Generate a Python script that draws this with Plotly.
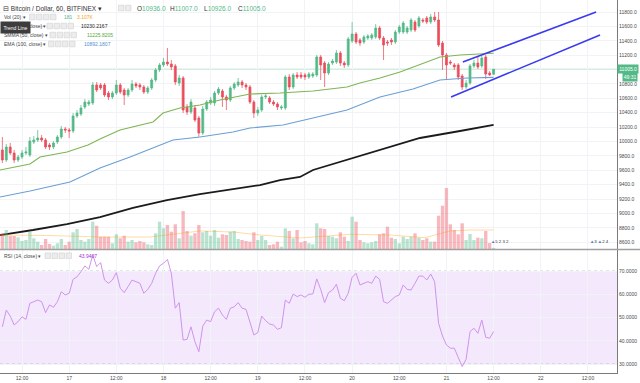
import plotly.graph_objects as go
import pandas as pd

# ---------------- data ----------------
symbol_title = "⊟ Bitcoin / Dollar, 60, BITFINEX ▾"
candle_start = "2018-02-16 07:00"

candle_open = [
    9882, 9743, 9924, 9840, 9743, 9785, 9840, 9813, 9993, 10021,
    10049, 10021, 9952, 9924, 9993, 10063, 10174, 10160, 10146, 10355,
    10382, 10480, 10521, 10535, 10786, 10786, 10786, 10674, 10619, 10674,
    10786, 10716, 10647, 10716, 10799, 10786, 10758, 10688, 10744, 10855,
    10994, 11064, 11105, 11077, 11050, 10813, 10883, 10480, 10410, 10466,
    10327, 10118, 10452, 10535, 10535, 10674, 10702, 10619, 10577, 10744,
    10786, 10827, 10786, 10758, 10549, 10396, 10438, 10619, 10605, 10549,
    10521, 10466, 10466, 10897, 10758, 10925, 10925, 10925, 10897, 10911,
    10925, 11175, 11091, 10952, 11091, 11105, 11230, 11091, 11064, 11397,
    11494, 11411, 11383, 11439, 11439, 11453, 11578, 11439, 11383, 11411,
    11383, 11522, 11522, 11522, 11550, 11661, 11606, 11689, 11717, 11661,
    11731, 11689, 11369, 11203, 11105, 11064, 11064, 10911, 10758, 10813,
    11050, 11091, 11050, 11175, 10952, 10936.0]
candle_high = [
    10063, 9965, 9979, 9882, 9813, 9882, 9924, 10063, 10077, 10160,
    10091, 10049, 9979, 10007, 10091, 10216, 10202, 10188, 10396, 10438,
    10508, 10591, 10577, 10827, 10827, 10813, 10813, 10702, 10702, 10855,
    10813, 10744, 10744, 10855, 10827, 10813, 10786, 10772, 10883, 11022,
    11091, 11161, 11300, 11133, 11077, 10925, 10911, 10521, 10591, 10508,
    10355, 10494, 10577, 10619, 10702, 10758, 10730, 10647, 10772, 10827,
    10883, 10855, 10813, 10786, 10577, 10480, 10647, 10674, 10633, 10577,
    10549, 10508, 10925, 10938, 10952, 10966, 10966, 10952, 10966, 10966,
    11203, 11203, 11119, 11105, 11147, 11272, 11258, 11119, 11453, 11661,
    11522, 11439, 11481, 11494, 11508, 11633, 11606, 11467, 11411, 11439,
    11550, 11620, 11675, 11606, 11717, 11689, 11745, 11717, 11745, 11772,
    11800, 11800, 11397, 11230, 11133, 11091, 11091, 10938, 10855, 11077,
    11133, 11175, 11189, 11203, 10980, 11007.0]
candle_low = [
    9701, 9715, 9813, 9701, 9715, 9757, 9813, 9785, 9965, 9993,
    9993, 9896, 9882, 9896, 9965, 10035, 10118, 10049, 10118, 10327,
    10355, 10452, 10494, 10508, 10688, 10716, 10619, 10577, 10591, 10647,
    10660, 10508, 10619, 10688, 10744, 10716, 10660, 10660, 10716, 10827,
    10966, 11036, 11050, 10994, 10786, 10772, 10396, 10369, 10382, 10271,
    10063, 10091, 10424, 10508, 10494, 10647, 10480, 10438, 10549, 10716,
    10758, 10744, 10716, 10521, 10327, 10355, 10410, 10591, 10521, 10494,
    10438, 10438, 10438, 10716, 10730, 10869, 10869, 10855, 10869, 10883,
    10897, 10855, 10758, 10925, 11064, 11077, 11050, 11022, 11036, 11369,
    11355, 11328, 11355, 11411, 11411, 11425, 11411, 11133, 11328, 11342,
    11355, 11494, 11494, 11494, 11522, 11522, 11578, 11647, 11633, 11633,
    11661, 11314, 10994, 10855, 11064, 10994, 10855, 10716, 10730, 10786,
    11022, 11008, 11022, 10869, 10911, 10926.0]
candle_close = [
    9743, 9924, 9840, 9743, 9785, 9840, 9854, 10007, 10021, 10049,
    10021, 9924, 9924, 9979, 10063, 10174, 10160, 10146, 10355, 10396,
    10466, 10549, 10549, 10786, 10716, 10744, 10647, 10619, 10674, 10786,
    10688, 10647, 10716, 10799, 10772, 10758, 10688, 10744, 10855, 10994,
    11064, 11105, 11077, 11036, 10827, 10883, 10438, 10410, 10549, 10299,
    10118, 10452, 10549, 10577, 10674, 10730, 10619, 10577, 10744, 10799,
    10827, 10786, 10758, 10549, 10396, 10438, 10619, 10633, 10549, 10521,
    10480, 10480, 10897, 10758, 10925, 10897, 10897, 10897, 10938, 10938,
    11175, 11064, 10952, 11077, 11119, 11230, 11091, 11064, 11425, 11494,
    11383, 11369, 11453, 11467, 11481, 11578, 11439, 11342, 11369, 11383,
    11522, 11592, 11647, 11578, 11689, 11550, 11717, 11675, 11661, 11731,
    11689, 11342, 11203, 11064, 11091, 11036, 10897, 10758, 10813, 11050,
    11091, 11036, 11161, 10938, 10925, 11005.0]
volume = [
    2567, 3107, 2126, 2126, 1913, 1308, 1472, 2780, 1749, 1194,
    654, 1635, 818, 540, 932, 1635, 654, 1194, 2730, 3270,
    1472, 1194, 1635, 4464, 3810, 2011, 2011, 2011, 932, 2403,
    1749, 2175, 1194, 1472, 1095, 1308, 1095, 768, 654, 2567,
    4464, 3384, 3924, 2829, 4038, 1749, 6213, 2943, 2175, 2567,
    3924, 2730, 2943, 2175, 3107, 1848, 2403, 2289, 2829, 2943,
    1635, 1472, 1308, 1194, 2730, 1472, 2126, 1472, 654, 768,
    1194, 376, 3384, 2943, 1749, 3107, 1095, 1308, 932, 768,
    4202, 3384, 3270, 2126, 2011, 1749, 2730, 2011, 1308, 5281,
    4464, 1472, 1095, 932, 1095, 1308, 2403, 2567, 3646, 1848,
    1635, 932, 2011, 1635, 2011, 2567, 1848, 1472, 1749, 1194,
    1194, 5445, 7080, 9974, 4038, 3107, 2403, 4202, 1472, 2453,
    1472, 1848, 1749, 2943, 981, 181]
rsi = [
    46, 53.2, 50.6, 46.8, 48.2, 50.3, 49.2, 56.1, 56.8, 57.5,
    56.8, 52.1, 55.4, 54.4, 56.8, 61.1, 59.7, 60.4, 66.4, 67.5,
    69.7, 72.2, 70.7, 76.9, 71.9, 73.6, 66.1, 64.7, 66.1, 69.3,
    62.6, 60.7, 63.3, 66.1, 65.4, 64.7, 60.4, 62.1, 64.7, 69,
    72.2, 73.3, 75, 69, 54, 56.4, 40.3, 40.6, 46, 39.6,
    35.3, 46.3, 48.9, 48.2, 52.5, 54, 51.1, 49.2, 54, 54.6,
    56.4, 54, 53.5, 47.5, 42.5, 43.5, 50.6, 48.6, 47.2, 46.8,
    44.9, 45.6, 57.5, 56.1, 60.1, 59, 59.7, 58.7, 60, 60.1,
    66.6, 62.1, 56.4, 60.7, 61.8, 64.3, 58.3, 57.2, 60.4, 67.3,
    69, 64, 64.7, 65.4, 64.7, 67.8, 66.4, 56.8, 56.1, 57.5,
    59, 59.7, 64, 62.1, 61.8, 64.7, 67.8, 67.8, 66.1, 68.7,
    65.4, 47.5, 42, 38.2, 36.8, 36.8, 32.9, 28.9, 32, 43.9,
    45.4, 43.2, 48.9, 41.5, 41.1, 43.9407]

smma50_time = ["2018-02-16 06:24", "2018-02-16 14:02", "2018-02-16 16:35", "2018-02-16 23:27",
               "2018-02-17 04:47", "2018-02-17 07:51", "2018-02-17 12:56", "2018-02-17 18:02",
               "2018-02-17 21:20", "2018-02-17 23:53", "2018-02-18 04:12", "2018-02-18 09:17",
               "2018-02-18 14:23", "2018-02-18 22:01", "2018-02-19 05:39", "2018-02-19 14:03",
               "2018-02-19 22:42", "2018-02-20 02:00", "2018-02-20 07:05", "2018-02-20 12:11",
               "2018-02-20 18:02", "2018-02-20 22:22", "2018-02-21 03:27", "2018-02-21 12:00"]
smma50_value = [9604, 9688, 9785, 9854, 9952, 10035, 10160, 10230, 10271, 10396, 10466, 10508,
                10577, 10660, 10674, 10702, 10758, 10813, 10883, 10966, 11091, 11175, 11203, 11225.8205]

ema100_time = ["2018-02-16 06:24", "2018-02-16 14:02", "2018-02-17 00:13", "2018-02-17 07:51",
               "2018-02-17 15:29", "2018-02-17 21:20", "2018-02-18 02:25", "2018-02-18 09:17",
               "2018-02-18 17:41", "2018-02-18 22:01", "2018-02-19 06:25", "2018-02-19 14:03",
               "2018-02-19 22:42", "2018-02-20 07:05", "2018-02-20 15:29", "2018-02-20 22:22",
               "2018-02-21 05:14", "2018-02-21 12:00"]
ema100_value = [9229, 9312, 9437, 9632, 9785, 9910, 10021, 10063, 10132, 10188, 10230, 10327,
                10438, 10619, 10730, 10855, 10883, 10892.1807]

ema200_time = ["2018-02-16 06:24", "2018-02-16 14:48", "2018-02-16 23:27", "2018-02-17 07:51",
               "2018-02-17 16:14", "2018-02-18 00:54", "2018-02-18 09:17", "2018-02-18 17:41",
               "2018-02-19 00:34", "2018-02-19 05:39", "2018-02-19 10:44", "2018-02-19 14:03",
               "2018-02-19 22:42", "2018-02-20 07:05", "2018-02-20 17:16", "2018-02-21 03:27",
               "2018-02-21 12:00"]
ema200_value = [8700, 8770, 8853, 8950, 9076, 9187, 9270, 9340, 9395, 9465, 9507, 9604,
                9743, 9882, 10049, 10146, 10230.2167]

vol_ma_time = ["2018-02-16 06:24", "2018-02-16 19:07", "2018-02-17 07:51", "2018-02-17 20:34",
               "2018-02-18 09:17", "2018-02-18 17:41", "2018-02-19 00:34", "2018-02-19 10:44",
               "2018-02-19 23:28", "2018-02-20 09:38", "2018-02-20 18:32", "2018-02-21 00:54",
               "2018-02-21 06:00", "2018-02-21 12:00"]
vol_ma_value = [2289, 2207, 1962, 1962, 2943, 2780, 2289, 1799, 2403, 2289, 1848, 2943, 3107, 3107]

trend_upper_time = ["2018-02-21 04:10", "2018-02-22 14:05"]
trend_upper_price = [11105, 11800]
trend_lower_time = ["2018-02-21 01:10", "2018-02-22 15:05"]
trend_lower_price = [10620, 11480]

x_tick_vals = ["2018-02-16 12:00", "2018-02-17 00:00", "2018-02-17 12:00", "2018-02-18 00:00",
               "2018-02-18 12:00", "2018-02-19 00:00", "2018-02-19 12:00", "2018-02-20 00:00",
               "2018-02-20 12:00", "2018-02-21 00:00", "2018-02-21 12:00", "2018-02-22 00:00",
               "2018-02-22 12:00"]
x_tick_text = ["12:00", "17", "12:00", "18", "12:00", "19", "12:00", "20", "12:00", "21",
               "12:00", "22", "12:00"]
price_ticks = [8600, 8800, 9000, 9200, 9400, 9600, 9800, 10000, 10200, 10400, 10600,
               10800, 11200, 11400, 11600, 11800]
rsi_ticks = [30, 40, 50, 60, 70]
rsi_band = [30, 70]
x_range = ["2018-02-16 06:24", "2018-02-22 19:24"]
price_range = [8506, 11967]
rsi_range = [26.13, 79.03]
volume_range = [0, 40712]

ohlc_text = {"O": 10936.0, "H": 11007.0, "L": 10926.0, "C": 11005.0}
vol_label = ("Vol (20)", "181", "3.107K")
countdown = "49:31"

# ---------------- styling ----------------
UP = "#53b987"
DOWN = "#eb4d5c"
FONT = "Liberation Sans, Arial, sans-serif"
W, H = 640, 383
PW, PH = 617, 373


def px(x):
    return x / PW


def py(y):
    return 1 - y / PH


times = pd.date_range(candle_start, periods=len(candle_close), freq="h")
vol_colors = ["rgba(83,185,135,0.40)" if c >= o else "rgba(235,77,92,0.40)"
              for o, c in zip(candle_open, candle_close)]

fig = go.Figure()

fig.add_trace(go.Bar(x=times, y=volume, marker=dict(color=vol_colors, line=dict(width=0)),
                     width=3600000 * 0.85, xaxis="x", yaxis="y3", hoverinfo="skip"))
fig.add_trace(go.Scatter(x=vol_ma_time, y=vol_ma_value, mode="lines",
                         line=dict(color="rgba(255,152,0,0.35)", width=1),
                         xaxis="x", yaxis="y3", hoverinfo="skip"))
fig.add_trace(go.Scatter(x=ema200_time, y=ema200_value, mode="lines",
                         line=dict(color="#1b1b1b", width=1.8), xaxis="x", yaxis="y"))
fig.add_trace(go.Scatter(x=ema100_time, y=ema100_value, mode="lines",
                         line=dict(color="#6a9fd4", width=1.1), xaxis="x", yaxis="y"))
fig.add_trace(go.Scatter(x=smma50_time, y=smma50_value, mode="lines",
                         line=dict(color="#7fb554", width=1.1), xaxis="x", yaxis="y"))
fig.add_trace(go.Candlestick(
    x=times, open=candle_open, high=candle_high, low=candle_low, close=candle_close,
    increasing=dict(line=dict(color="rgba(83,185,135,0.75)", width=1), fillcolor=UP),
    decreasing=dict(line=dict(color="rgba(235,77,92,0.75)", width=1), fillcolor=DOWN),
    whiskerwidth=0, xaxis="x", yaxis="y", hoverinfo="skip"))
fig.add_trace(go.Scatter(x=trend_upper_time, y=trend_upper_price, mode="lines",
                         line=dict(color="#3a3af0", width=1.6), xaxis="x", yaxis="y"))
fig.add_trace(go.Scatter(x=trend_lower_time, y=trend_lower_price, mode="lines",
                         line=dict(color="#3a3af0", width=1.6), xaxis="x", yaxis="y"))
fig.add_trace(go.Scatter(x=times, y=rsi, mode="lines",
                         line=dict(color="#cf94ea", width=1), xaxis="x", yaxis="y2"))

grid = "#f1f3f7"
axis_font = dict(family=FONT, size=5, color="#4a4a4a")

fig.update_layout(
    width=W, height=H, margin=dict(l=0, r=W - PW, t=0, b=H - PH),
    plot_bgcolor="white", paper_bgcolor="white", showlegend=False,
    font=dict(family=FONT),
    xaxis=dict(type="date", range=x_range, domain=[0, 1], anchor="y2",
               tickmode="array", tickvals=x_tick_vals, ticktext=x_tick_text,
               showgrid=True, gridcolor=grid, gridwidth=1, zeroline=False,
               showline=True, linecolor="#7a7a7a", linewidth=1, ticks="", ticklen=0,
               tickfont=axis_font, rangeslider=dict(visible=False), fixedrange=True),
    yaxis=dict(domain=[py(249), 1], range=price_range, side="right", anchor="x",
               tickmode="array", tickvals=price_ticks, tickformat=".1f",
               showgrid=True, gridcolor=grid, zeroline=False,
               showline=True, linecolor="#7a7a7a", linewidth=1, ticks="", ticklen=0,
               tickfont=axis_font),
    yaxis3=dict(overlaying="y", range=volume_range, visible=False, anchor="x"),
    yaxis2=dict(domain=[0, py(250)], range=rsi_range, side="right", anchor="x",
                tickmode="array", tickvals=rsi_ticks, tickformat=".4f",
                showgrid=True, gridcolor=grid, zeroline=False,
                showline=True, linecolor="#7a7a7a", linewidth=1, ticks="", ticklen=0,
                tickfont=axis_font),
)

# RSI band and bounds
fig.add_shape(type="rect", xref="paper", yref="y2", x0=0, x1=1, y0=rsi_band[0], y1=rsi_band[1],
              fillcolor="#f4e8fd", line=dict(width=0), layer="below")
for lvl in rsi_band:
    fig.add_shape(type="line", xref="paper", yref="y2", x0=0, x1=1, y0=lvl, y1=lvl,
                  line=dict(color="#c9c3d3", width=1, dash="dot"), layer="below")
# current price line
fig.add_shape(type="line", xref="paper", yref="y", x0=0, x1=1,
              y0=candle_close[-1], y1=candle_close[-1],
              line=dict(color="rgba(83,185,135,0.25)", width=1.5), layer="below")
# pane separator
fig.add_shape(type="line", xref="paper", yref="paper", x0=0, x1=W / PW, y0=py(249.5), y1=py(249.5),
              line=dict(color="#a0a0a0", width=1.5))

# legend icon boxes
icon_rows = [(8, [118.5, 125.5]), (17, [29.5, 36.5, 43.5, 50.5]), (26, [47, 54, 61, 68]),
             (35, [50, 57, 64, 71]), (44, [48.5, 55.5, 62.5, 69.5]), (255.7, [45, 52, 59, 66])]
for yy, xs in icon_rows:
    for xx in xs:
        fig.add_shape(type="rect", xref="paper", yref="paper",
                      x0=px(xx), x1=px(xx + 5.5), y0=py(yy + 2.8), y1=py(yy - 2.8),
                      fillcolor="#ececec", line=dict(color="#d2d2d2", width=0.6))

annotations = []


def txt(x, y, text, size=5, color="#444", **kw):
    d = dict(x=px(x), y=py(y), xref="paper", yref="paper", text=text, showarrow=False,
             xanchor="left", yanchor="middle", font=dict(family=FONT, size=size, color=color))
    d.update(kw)
    annotations.append(d)


txt(0.5, 8, symbol_title, size=6.5, color="#333")
ox = {"O": 135, "H": 168, "L": 202, "C": 236}
for k, v in ohlc_text.items():
    txt(ox[k], 8, f"{k}<span style='color:{UP}'>{v:.1f}</span>", size=6.5, color="#333")
txt(1.5, 17, vol_label[0] + " ▾", color="#444")
txt(61.5, 17, vol_label[1], color=UP)
txt(74.5, 17, vol_label[2], color="#f5a623")
txt(1.5, 26, "EMA (200, close) ▾", color="#444")
txt(79.5, 26, f"{ema200_value[-1]:.4f}", color="#222")
txt(1.5, 35, "SMMA (50, close) ▾", color="#444")
txt(84.5, 35, f"{smma50_value[-1]:.4f}", color="#58a83c")
txt(1.5, 44, "EMA (100, close) ▾", color="#444")
txt(81.5, 44, f"{ema100_value[-1]:.4f}", color="#4f8fd0")
txt(1.5, 255.7, "RSI (14, close) ▾", color="#444")
txt(76.5, 255.7, f"{rsi[-1]:.4f}", color="#9c33c9")
# event markers near volume pane
txt(489, 241.5, "<span style='color:#4a78d0'>▲</span>5 2 3 2", size=4.3, color="#333")
txt(588, 241.5, "<span style='color:#4a78d0'>▲</span>3 <span style='color:#4a78d0'>▲</span>2 4",
    size=4.3, color="#333")
# price tag and countdown
annotations.append(dict(x=1.0, y=candle_close[-1], xref="paper", yref="y",
                        text=f"{candle_close[-1]:.1f}", showarrow=False, xanchor="left",
                        yanchor="middle", bgcolor=UP, borderpad=1.2,
                        font=dict(family=FONT, size=5, color="white")))
annotations.append(dict(x=px(622), y=candle_close[-1], xref="paper", yref="y", yshift=-7.5,
                        text=countdown, showarrow=False, xanchor="left", yanchor="middle",
                        bgcolor=UP, borderpad=0.8,
                        font=dict(family=FONT, size=5, color="white")))
# tooltip
annotations.append(dict(x=px(0), y=py(27.5), xref="paper", yref="paper", text="Trend Line",
                        showarrow=False, xanchor="left", yanchor="middle", bgcolor="#3d3d3d",
                        borderpad=2.5, font=dict(family=FONT, size=5, color="white")))

fig.update_layout(annotations=annotations)
fig.write_html("out.html", config={"displayModeBar": False},
               post_script="document.body.style.margin='0';document.body.style.overflow='hidden';")
